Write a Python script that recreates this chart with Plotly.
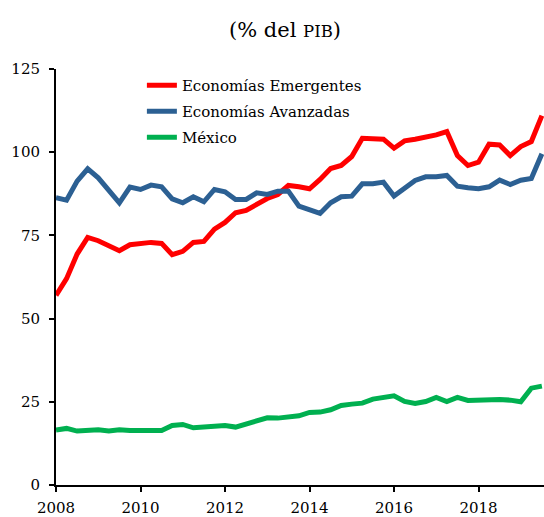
import plotly.graph_objects as go

# quarterly observations, 2008Q1 .. 2019Q3
quarters = [2008 + 0.25 * i for i in range(47)]

emergentes = [
    57.0, 62.0, 69.4, 74.4,
    73.4, 72.1, 70.4, 72.2,
    72.4, 72.9, 72.6, 69.2,
    70.2, 72.9, 73.2, 76.9,
    78.9, 81.8, 82.5, 84.5,
    86.1, 87.3, 90.0, 89.6,
    89.0, 91.8, 95.1, 96.0,
    98.7, 104.2, 103.9, 103.9,
    101.2, 103.4, 103.9, 104.5,
    105.2, 106.2, 99.0, 96.0,
    97.0, 102.4, 102.2, 99.0,
    101.7, 103.2, 111.0,
]
avanzadas = [
    86.3, 85.6, 91.3, 95.0,
    92.3, 88.3, 84.8, 89.5,
    88.8, 90.1, 89.6, 86.0,
    84.8, 86.6, 85.1, 88.8,
    88.1, 85.8, 85.8, 87.8,
    87.3, 88.3, 88.3, 83.8,
    82.6, 81.6, 84.8, 86.6,
    86.8, 90.5, 90.5, 91.0,
    86.8, 89.0, 91.5, 92.6,
    92.6, 93.0, 89.8, 89.3,
    89.0, 89.6, 91.6, 90.3,
    91.6, 92.1, 99.5,
]
mexico = [
    16.5, 17.0, 16.2, 16.4,
    16.6, 16.2, 16.6, 16.4,
    16.5, 16.6, 16.4, 17.9,
    18.2, 17.2, 17.5, 17.6,
    17.9, 17.4, 18.4, 19.2,
    20.2, 20.1, 20.6, 20.8,
    21.8, 21.9, 22.6, 23.9,
    24.3, 24.6, 25.8, 26.3,
    26.8, 25.1, 24.5, 25.1,
    26.3, 25.1, 26.3, 25.4,
    25.6, 25.5, 25.7, 25.5,
    25.0, 29.1, 29.7,
]

series = [
    ("Economías Emergentes", emergentes, "#FF0000"),
    ("Economías Avanzadas", avanzadas, "#2C6093"),
    ("México", mexico, "#00B050"),
]

FONT = "DejaVu Serif"  # the only serif face that resolved in the sandbox

fig = go.Figure()
for name, vals, color in series:
    fig.add_trace(go.Scatter(
        x=quarters, y=vals, name=name, mode="lines", legendgroup=name,
        line=dict(color=color, width=5),
    ))

fig.update_layout(
    width=544, height=517,
    margin=dict(l=56, r=0, t=69, b=30),
    paper_bgcolor="white", plot_bgcolor="white",
    font=dict(family=FONT, size=15, color="black"),
    showlegend=True,
    legend=dict(
        x=0.176, y=1.0, xanchor="left", yanchor="top",
        bgcolor="rgba(0,0,0,0)", font=dict(family=FONT, size=15),
        tracegroupgap=3.5,
    ),
    annotations=[dict(
        text="(% del <span style='font-size:16.5px'>PIB</span>)",
        xref="paper", yref="paper", x=0.469, y=1.093,
        xanchor="center", yanchor="middle", showarrow=False,
        font=dict(family=FONT, size=21),
    )],
)
fig.update_xaxes(
    range=[2008, 2019.55], tickvals=[2008, 2010, 2012, 2014, 2016, 2018],
    showgrid=False, zeroline=False, showline=True, linecolor="black", linewidth=2,
    ticks="outside", ticklen=5, tickwidth=1.5, tickcolor="black",
    ticklabelstandoff=3,
)
fig.update_yaxes(
    range=[0, 125], tickvals=[0, 25, 50, 75, 100, 125],
    showgrid=False, zeroline=False, showline=True, linecolor="black", linewidth=2,
    ticks="outside", ticklen=5, tickwidth=1.5, tickcolor="black",
    ticklabelstandoff=6,
)

# drop the default 8px body margin so the figure fills the window
fig.write_html(
    "out.html",
    config={"displayModeBar": False},
    post_script="document.body.style.margin = '0';",
)
